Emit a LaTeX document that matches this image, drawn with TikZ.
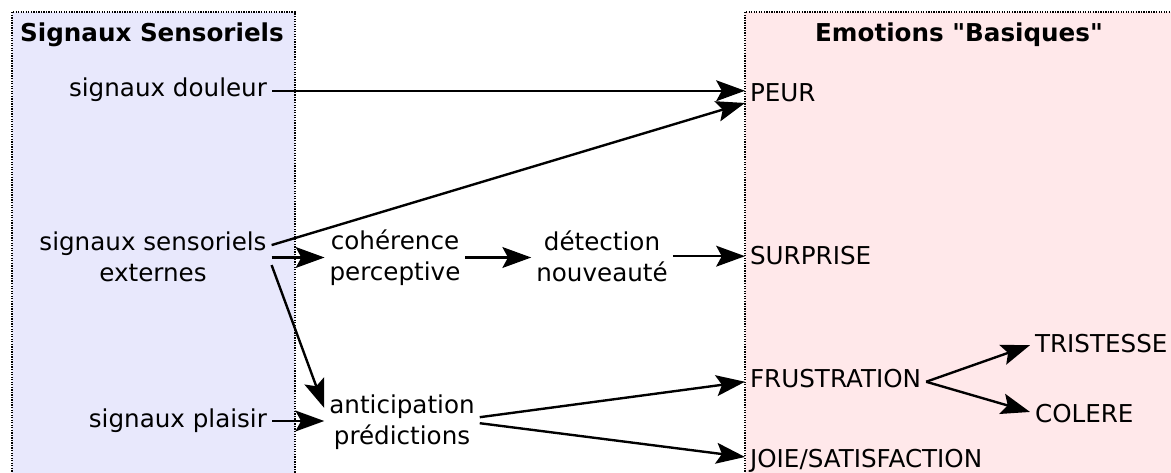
\documentclass[tikz,border=0pt]{standalone}
\usepackage{fontspec}
\setmainfont{DejaVu Sans}[Ligatures=TeXOff]
\usepackage{xcolor}
\usetikzlibrary{arrows.meta, positioning}

\definecolor{sensbg}{RGB}{232,232,252}
\definecolor{emobg}{RGB}{255,232,234}

\begin{document}
\begin{tikzpicture}[
  zonebox/.style={draw, line width=0.9pt, dash pattern=on 0.9pt off 0.9pt},
  itemlabel/.style={font=\fontsize{17.5}{22}\selectfont, inner sep=0.12cm, text height=13pt, text depth=4.4pt},
  multilabel/.style={font=\fontsize{17.5}{22}\selectfont, inner sep=0.12cm, align=center},
  titlelabel/.style={font=\fontsize{17.5}{22}\selectfont\bfseries},
  fleche/.style={-{Stealth[length=0.72cm, width=0.52cm, inset=0.14cm]}, line width=1.7pt},
]
\clip (0, 0) rectangle (29.275, 11.8);
\fill[white] (0, 0) rectangle (29.275, 11.8);

% Zones
\draw[zonebox, fill=sensbg] (0.3, -1) rectangle (7.375, 11.5);
\draw[zonebox, fill=emobg] (18.625, -1) rectangle (29.6, 11.5);
\node[titlelabel, anchor=base] (tsens) at (3.8, 10.75) {Signaux Sensoriels};
\node[titlelabel, anchor=base] (temo) at (23.975, 10.75) {Emotions "Basiques"};

% Signaux
\node[itemlabel, anchor=east] (douleur) at (6.8, 9.531) {signaux douleur};
\node[multilabel] (sens) at (3.825, 5.383) {signaux sensoriels\\externes};
\node[itemlabel, anchor=east] (plaisir) at (6.8, 1.275) {signaux plaisir};

% Traitements
\node[multilabel] (coh) at (9.875, 5.3625) {cohérence\\perceptive};
\node[multilabel] (det) at (15.05, 5.395) {détection\\nouveauté};
\node[multilabel] (ant) at (10.05, 1.25) {anticipation\\prédictions};

% Emotions
\node[itemlabel, anchor=west] (peur) at (18.625, 9.406) {PEUR};
\node[itemlabel, anchor=west] (surprise) at (18.625, 5.331) {SURPRISE};
\node[itemlabel, anchor=west] (frustration) at (18.625, 2.256) {FRUSTRATION};
\node[itemlabel, anchor=west] (joie) at (18.625, 0.256) {JOIE/SATISFACTION};
\node[itemlabel, anchor=west] (tristesse) at (25.75, 3.131) {TRISTESSE};
\node[itemlabel, anchor=west] (colere) at (25.75, 1.381) {COLERE};

% Fleches
\draw[fleche] (douleur.east) -- (douleur.east -| peur.west);
\draw[fleche] ([yshift=0.29cm]sens.east) -- ([yshift=-0.18cm]peur.west);
\draw[fleche] (sens.east |- coh.west) -- (coh.west);
\draw[fleche] (coh.east) -- (coh.east -| det.west);
\draw[fleche] (det.east) -- (det.east -| surprise.west);
\draw[fleche] ([yshift=-0.21cm]sens.east) -- ([yshift=0.35cm]ant.west);
\draw[fleche] (plaisir.east) -- (plaisir.east -| ant.west);
\draw[fleche] ([yshift=0.12cm]ant.east) -- (frustration.west);
\draw[fleche] ([yshift=-0.03cm]ant.east) -- ([yshift=0.12cm]joie.west);
\draw[fleche] (frustration.east) -- ([yshift=0.04cm]tristesse.west);
\draw[fleche] (frustration.east) -- ([yshift=0.12cm]colere.west);

\end{tikzpicture}
\end{document}
